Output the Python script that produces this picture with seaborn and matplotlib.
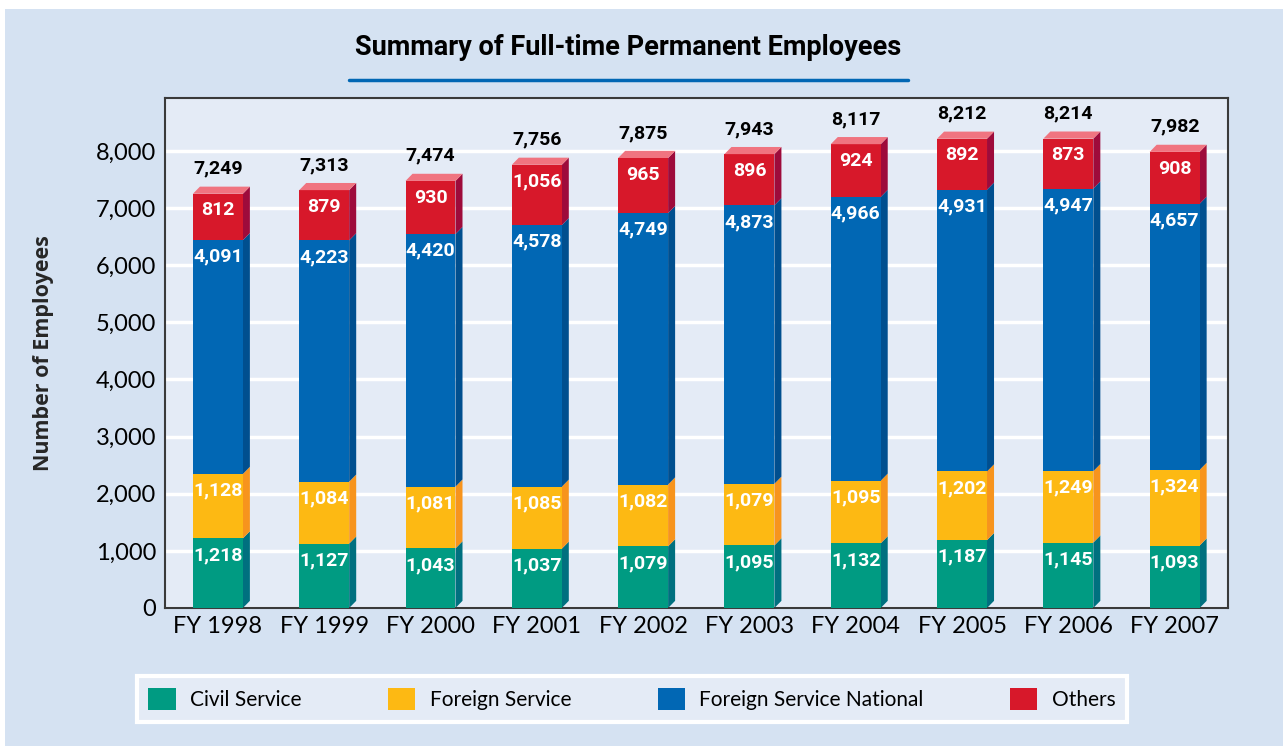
import numpy as np
import pandas as pd
import seaborn as sns
import matplotlib.pyplot as plt
from matplotlib.patches import Polygon, Patch, Rectangle

years = ["FY 1998", "FY 1999", "FY 2000", "FY 2001", "FY 2002",
         "FY 2003", "FY 2004", "FY 2005", "FY 2006", "FY 2007"]
civil = [1218, 1127, 1043, 1037, 1079, 1095, 1132, 1187, 1145, 1093]
foreign = [1128, 1084, 1081, 1085, 1082, 1079, 1095, 1202, 1249, 1324]
fsn = [4091, 4223, 4420, 4578, 4749, 4873, 4966, 4931, 4947, 4657]
others = [812, 879, 930, 1056, 965, 896, 924, 892, 873, 908]

series = ["Civil Service", "Foreign Service", "Foreign Service National", "Others"]
face = ["#009B82", "#FDB913", "#0167B4", "#D7182A"]
side = ["#00707F", "#F7941D", "#004F8F", "#9E0B3B"]
top_face = "#F07480"

df = pd.DataFrame({"year": years, "Civil Service": civil, "Foreign Service": foreign,
                   "Foreign Service National": fsn, "Others": others})
cum = df[series].cumsum(axis=1)
bottoms = cum.shift(1, axis=1).fillna(0)

sns.set_style("white")
label_font = ["Roboto", "DejaVu Sans"]
plt.rcParams["font.family"] = ["Lato", "DejaVu Sans"]
plt.rcParams["text.color"] = "black"
plt.rcParams["xtick.color"] = "black"
plt.rcParams["ytick.color"] = "black"

fig = plt.figure(figsize=(12.87, 7.46), dpi=100, facecolor="white")
fig.patches.append(Rectangle((0.004, 0.0), 0.993, 0.988, transform=fig.transFigure,
                             facecolor="#D5E2F2", edgecolor="none", zorder=-10))
ax = fig.add_axes([0.128, 0.185, 0.826, 0.684])
ax.set_facecolor("#E4EBF6")

w = 0.47
dx, dy = 0.066, 125
# draw tallest cumulative first so smaller layers sit on top
for i in range(len(series) - 1, -1, -1):
    sns.barplot(x=df["year"], y=cum[series[i]], color=face[i], width=w,
                saturation=1, linewidth=0, ax=ax, zorder=3)

x = np.arange(len(years))
for i, s in enumerate(series):
    for j in range(len(years)):
        b, t = bottoms[s][j], cum[s][j]
        xr = x[j] + w / 2
        ax.add_patch(Polygon([(xr, b), (xr + dx, b + dy), (xr + dx, t + dy), (xr, t)],
                             closed=True, facecolor=side[i], edgecolor="none", zorder=2.5))
        ax.annotate(f"{df[s][j]:,}", (x[j], t), xytext=(0, -12), textcoords="offset points",
                    ha="center", va="center", color="white", fontsize=14,
                    fontweight="bold", family=label_font, zorder=5)

totals = cum["Others"]
for j in range(len(years)):
    t = totals[j]
    xl, xr = x[j] - w / 2, x[j] + w / 2
    ax.add_patch(Polygon([(xl, t), (xl + dx, t + dy), (xr + dx, t + dy), (xr, t)],
                         closed=True, facecolor=top_face, edgecolor="none", zorder=4))
    ax.annotate(f"{t:,}", (x[j], t), xytext=(0, 18), textcoords="offset points",
                ha="center", va="center", color="black", fontsize=14,
                fontweight="bold", family=label_font)

ax.set_xlim(-0.5, 9.5)
ax.set_ylim(0, 8930)
ax.set_yticks(range(0, 9000, 1000))
ax.set_yticklabels([f"{v:,}" for v in range(0, 9000, 1000)])
ax.yaxis.grid(True, color="white", linewidth=2.5, zorder=0)
ax.set_axisbelow(True)
ax.tick_params(axis="both", length=0, labelsize=17, pad=6)
ax.set_xlabel("")
ax.set_ylabel("Number of Employees", fontsize=15.5, fontweight="bold",
              family=["Open Sans", "DejaVu Sans"], labelpad=30)
for sp in ax.spines.values():
    sp.set_color("#3A3A3A")
    sp.set_linewidth(1.5)

fig.text(0.488, 0.936, "Summary of Full-time Permanent Employees", ha="center", va="center",
         fontsize=19.5, fontweight="bold", family=label_font)
fig.add_artist(plt.Line2D([349 / 1287, 908 / 1287], [1 - 80 / 746] * 2,
                          color="#0167B4", linewidth=2.5, transform=fig.transFigure))

handles = [Patch(facecolor=c, edgecolor="none") for c in face]
leg = fig.legend(handles, series, loc="center",
                 bbox_to_anchor=(137 / 1287, 1 - 724 / 746, 990 / 1287, 50 / 746),
                 mode="expand", ncol=4,
                 fontsize=15, handlelength=1.3, handleheight=1.3, columnspacing=3.3,
                 handletextpad=0.7, fancybox=False, borderpad=0.55, borderaxespad=0,
                 framealpha=1)
leg.get_frame().set_facecolor("#E4EBF6")
leg.get_frame().set_edgecolor("white")
leg.get_frame().set_linewidth(3)

plt.savefig("out.png", dpi=100, facecolor=fig.get_facecolor())
